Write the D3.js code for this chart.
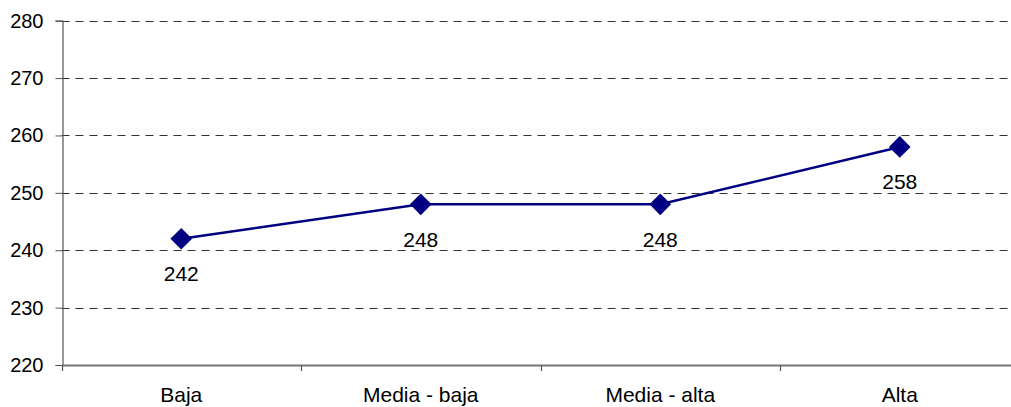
<!DOCTYPE html>
<html><head><meta charset="utf-8">
<script src="https://cdn.jsdelivr.net/npm/d3@7"></script>
<style>body{margin:0;background:#fff;overflow:hidden}text{font-family:Arial,"Liberation Sans",sans-serif;fill:#000}</style>
</head><body><svg id="c" width="1011" height="407"></svg>
<script>
const categories = ["Baja", "Media - baja", "Media - alta", "Alta"];
const values = [242, 248, 248, 258];
const yTicks = [220, 230, 240, 250, 260, 270, 280];

const svg = d3.select("#c");
const L = 61.5, R = 1019.5, T = 20.7, B = 365;
const x = d3.scaleBand().domain(categories).range([L, R]);
const y = d3.scaleLinear().domain([220, 280]).range([B, T]);
const cx = c => x(c) + x.bandwidth() / 2;

// gridlines
svg.append("g").selectAll("line").data(yTicks.filter(t => t > 220)).join("line")
  .attr("x1", L).attr("x2", R).attr("y1", d => Math.round(y(d)) + 0.5).attr("y2", d => Math.round(y(d)) + 0.5)
  .attr("stroke", "#333").attr("stroke-width", 1).attr("stroke-dasharray", "8,6");

// y axis
const ya = svg.append("g").attr("transform", `translate(${Math.round(L)+0.5},0)`)
  .call(d3.axisLeft(y).tickValues(yTicks).tickSize(7).tickPadding(12).tickFormat(d3.format("d")));
ya.select(".domain").attr("stroke", "#555").attr("stroke-width", 1.2);
ya.selectAll(".tick line").attr("stroke", "#555");
ya.selectAll(".tick text").attr("font-size", 20).attr("fill", "#000");

// x axis
const xa = svg.append("g").attr("transform", `translate(0,${B})`)
  .call(d3.axisBottom(x).tickSize(0).tickPadding(22));
xa.select(".domain").attr("stroke", "#777").attr("stroke-width", 2);
xa.selectAll(".tick text").attr("font-size", 21).attr("fill", "#000");
// boundary ticks
const bounds = categories.map(c => x(c)).concat([R]);
svg.append("g").selectAll("line").data(bounds).join("line")
  .attr("x1", d => Math.round(d) + 0.5).attr("x2", d => Math.round(d) + 0.5)
  .attr("y1", B).attr("y2", B + 6).attr("stroke", "#555").attr("stroke-width", 1.2);

// line
svg.append("path").datum(values)
  .attr("d", d3.line().x((d, i) => cx(categories[i])).y(d => y(d)))
  .attr("fill", "none").attr("stroke", "#000080").attr("stroke-width", 2.5);

// markers
svg.append("g").selectAll("path").data(values).join("path")
  .attr("transform", (d, i) => `translate(${cx(categories[i])},${y(d)})`)
  .attr("d", d3.symbol(d3.symbolDiamond2, 300))
  .attr("fill", "#000080");

// labels
svg.append("g").selectAll("text").data(values).join("text")
  .attr("x", (d, i) => cx(categories[i])).attr("y", d => y(d) + 42.5)
  .attr("text-anchor", "middle").attr("font-size", 21).text(d => d);
</script></body></html>
